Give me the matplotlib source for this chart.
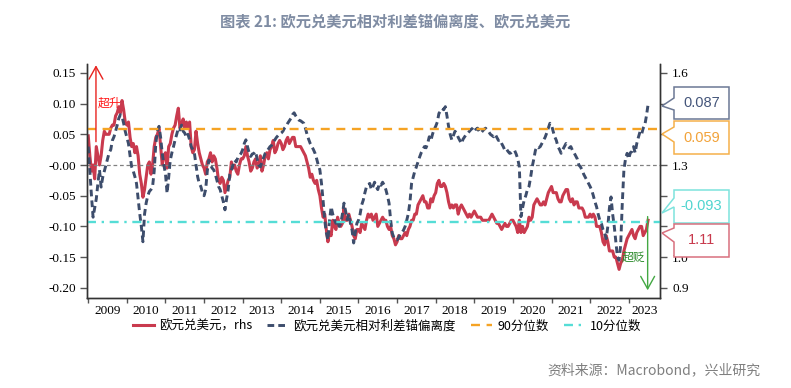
import numpy as np
import matplotlib
matplotlib.use('Agg')
import matplotlib.pyplot as plt
from matplotlib.patches import Polygon

plt.rcParams['font.family'] = ['Noto Sans CJK SC', 'DejaVu Sans']
plt.rcParams['axes.unicode_minus'] = False

# semi-monthly observations starting Jan 2009
eurusd = [
    1.395, 1.33, 1.28, 1.30, 1.255, 1.36, 1.33, 1.30, 1.33, 1.38, 1.41, 1.40, 1.40, 1.40, 1.42, 1.43, 1.43, 1.46, 1.47, 1.49, 1.47, 1.51, 1.48, 1.44,
    1.43, 1.44, 1.39, 1.36, 1.37, 1.34, 1.36, 1.33, 1.27, 1.24, 1.195, 1.22, 1.26, 1.30, 1.31, 1.27, 1.30, 1.36, 1.39, 1.40, 1.42, 1.36, 1.30, 1.33,
    1.34, 1.29, 1.36, 1.37, 1.40, 1.42, 1.43, 1.46, 1.485, 1.42, 1.43, 1.45, 1.42, 1.44, 1.42, 1.44, 1.36, 1.34, 1.35, 1.41, 1.37, 1.34, 1.32, 1.30,
    1.29, 1.27, 1.31, 1.32, 1.34, 1.31, 1.33, 1.32, 1.29, 1.25, 1.24, 1.26, 1.25, 1.21, 1.23, 1.25, 1.26, 1.31, 1.29, 1.30, 1.28, 1.27, 1.30, 1.32,
    1.32, 1.33, 1.36, 1.33, 1.31, 1.28, 1.29, 1.31, 1.32, 1.29, 1.30, 1.33, 1.28, 1.30, 1.33, 1.34, 1.32, 1.35, 1.36, 1.38, 1.34, 1.35, 1.37, 1.38,
    1.37, 1.35, 1.36, 1.38, 1.39, 1.37, 1.38, 1.39, 1.39, 1.36, 1.36, 1.36, 1.36, 1.35, 1.34, 1.33, 1.31, 1.29, 1.26, 1.27, 1.25, 1.24, 1.25, 1.22,
    1.20, 1.16, 1.13, 1.14, 1.09, 1.05, 1.08, 1.07, 1.12, 1.10, 1.09, 1.13, 1.11, 1.10, 1.11, 1.16, 1.12, 1.12, 1.14, 1.12, 1.10, 1.07, 1.06, 1.09,
    1.09, 1.08, 1.11, 1.10, 1.09, 1.12, 1.14, 1.13, 1.14, 1.12, 1.13, 1.14, 1.10, 1.11, 1.12, 1.13, 1.12, 1.12, 1.10, 1.09, 1.10, 1.07, 1.06, 1.04,
    1.05, 1.07, 1.06, 1.06, 1.07, 1.08, 1.07, 1.09, 1.10, 1.12, 1.12, 1.14, 1.14, 1.17, 1.18, 1.19, 1.20, 1.18, 1.18, 1.16, 1.16, 1.19, 1.18, 1.20,
    1.21, 1.24, 1.25, 1.23, 1.23, 1.24, 1.23, 1.21, 1.18, 1.16, 1.17, 1.16, 1.17, 1.17, 1.14, 1.16, 1.17, 1.16, 1.15, 1.14, 1.13, 1.14, 1.13, 1.14,
    1.15, 1.14, 1.13, 1.13, 1.13, 1.12, 1.12, 1.12, 1.12, 1.12, 1.13, 1.14, 1.13, 1.12, 1.11, 1.11, 1.10, 1.09, 1.10, 1.11, 1.10, 1.10, 1.11, 1.12,
    1.12, 1.11, 1.10, 1.08, 1.12, 1.08, 1.10, 1.08, 1.09, 1.10, 1.13, 1.12, 1.13, 1.17, 1.18, 1.19, 1.18, 1.17, 1.17, 1.18, 1.17, 1.19, 1.21, 1.22,
    1.23, 1.21, 1.21, 1.21, 1.19, 1.18, 1.18, 1.20, 1.21, 1.22, 1.22, 1.19, 1.18, 1.19, 1.17, 1.18, 1.18, 1.16, 1.16, 1.16, 1.15, 1.13, 1.13, 1.13,
    1.14, 1.13, 1.14, 1.13, 1.10, 1.10, 1.10, 1.08, 1.05, 1.04, 1.07, 1.05, 1.02, 1.02, 1.02, 1.00, 1.00, 0.98, 0.96, 0.98, 0.99, 1.02, 1.04, 1.06,
    1.07, 1.08, 1.09, 1.07, 1.06, 1.08, 1.09, 1.10, 1.10, 1.07, 1.08, 1.09, 1.12,
]

deviation = [
    0.030, -0.010, -0.050, -0.085, -0.070, -0.055, -0.030, -0.008, -0.036, -0.020, -0.010, 0.000, 0.010, 0.020, 0.025, 0.040, 0.046, 0.055, 0.065, 0.076, 0.082, 0.079, 0.068, 0.055,
    0.045, 0.035, 0.015, -0.003, -0.010, -0.019, -0.030, -0.055, -0.079, -0.100, -0.125, -0.080, -0.062, -0.050, -0.043, -0.040, -0.035, -0.010, 0.035, 0.055, 0.063, 0.045, 0.019, 0.000,
    -0.014, -0.046, -0.020, 0.008, 0.020, 0.030, 0.041, 0.050, 0.060, 0.057, 0.065, 0.055, 0.052, 0.045, 0.050, 0.041, 0.030, 0.025, 0.019, 0.000, -0.019, -0.030, -0.035, -0.045,
    -0.050, -0.040, -0.010, 0.008, 0.000, -0.005, -0.008, -0.015, -0.025, -0.035, -0.040, -0.050, -0.060, -0.073, -0.055, -0.040, -0.015, -0.008, 0.000, 0.008, 0.005, 0.012, 0.015, 0.019,
    0.025, 0.035, 0.041, 0.030, 0.020, 0.014, 0.018, 0.019, 0.022, 0.010, 0.000, -0.003, 0.005, 0.012, 0.019, 0.022, 0.026, 0.030, 0.032, 0.036, 0.041, 0.045, 0.048, 0.050,
    0.052, 0.055, 0.060, 0.063, 0.068, 0.072, 0.076, 0.082, 0.085, 0.080, 0.076, 0.073, 0.072, 0.070, 0.068, 0.060, 0.050, 0.042, 0.035, 0.030, 0.025, 0.019, 0.010, 0.000,
    -0.008, -0.030, -0.058, -0.090, -0.110, -0.122, -0.090, -0.068, -0.080, -0.089, -0.095, -0.090, -0.100, -0.095, -0.080, -0.062, -0.075, -0.089, -0.080, -0.095, -0.106, -0.127, -0.110, -0.095,
    -0.090, -0.080, -0.065, -0.057, -0.045, -0.035, -0.032, -0.030, -0.040, -0.035, -0.028, -0.035, -0.040, -0.030, -0.033, -0.028, -0.033, -0.040, -0.050, -0.062, -0.090, -0.111, -0.118, -0.122,
    -0.122, -0.118, -0.112, -0.110, -0.106, -0.100, -0.090, -0.079, -0.060, -0.030, -0.020, -0.010, -0.003, 0.005, 0.013, 0.020, 0.025, 0.030, 0.028, 0.035, 0.046, 0.040, 0.050, 0.058,
    0.063, 0.070, 0.084, 0.088, 0.092, 0.090, 0.095, 0.080, 0.063, 0.050, 0.041, 0.048, 0.055, 0.052, 0.045, 0.040, 0.035, 0.042, 0.046, 0.050, 0.052, 0.055, 0.058, 0.060,
    0.063, 0.058, 0.060, 0.055, 0.052, 0.055, 0.058, 0.060, 0.057, 0.054, 0.050, 0.048, 0.046, 0.050, 0.045, 0.040, 0.041, 0.035, 0.030, 0.024, 0.026, 0.022, 0.019, 0.020,
    0.022, 0.024, 0.018, 0.010, -0.003, -0.084, -0.070, -0.057, -0.050, -0.040, -0.035, -0.020, -0.003, 0.010, 0.024, 0.030, 0.028, 0.030, 0.035, 0.040, 0.045, 0.052, 0.060, 0.068,
    0.065, 0.055, 0.046, 0.040, 0.030, 0.025, 0.019, 0.025, 0.030, 0.035, 0.032, 0.028, 0.030, 0.024, 0.020, 0.015, 0.010, 0.000, -0.003, -0.008, -0.015, -0.020, -0.025, -0.030,
    -0.035, -0.041, -0.050, -0.060, -0.068, -0.080, -0.090, -0.095, -0.105, -0.111, -0.120, -0.100, -0.070, -0.052, -0.080, -0.100, -0.125, -0.150, -0.155, -0.130, -0.062, -0.008, 0.010, 0.019,
    0.010, 0.020, 0.022, 0.030, 0.020, 0.035, 0.045, 0.054, 0.050, 0.060, 0.065, 0.080, 0.098,
]

p90 = 0.059
p10 = -0.093
years = list(range(2009, 2024))
callout_text = ['0.087', '0.059', '-0.093', '1.11']
rhs_hidden = ['1.1', '1.2', '1.4', '1.5']  # covered by the callouts in the original

t = 2009 + np.arange(len(eurusd)) / 24.0

W, H = 791, 388
fig = plt.figure(figsize=(W / 100, H / 100), dpi=100)
ax = fig.add_axes([86.7 / W, 1 - 297.7 / H, (660 - 86.7) / W, (297.7 - 64) / H])
ax2 = ax.twinx()
ax.set_zorder(ax2.get_zorder() + 1)
ax.patch.set_visible(False)

red = '#c93a4e'
navy = '#3d4d6c'
orange = '#f5a324'
cyan = '#55ddd6'

l_red, = ax2.plot(t, eurusd, color=red, lw=2.2, label='欧元兑美元，rhs')
l_navy, = ax.plot(t, deviation, color=navy, lw=2.1, dashes=(2.3, 1.4), label='欧元兑美元相对利差锚偏离度')
l_90 = ax.axhline(p90, color=orange, lw=1.7, dashes=(3.8, 2.8), label='90分位数')
l_10 = ax.axhline(p10, color=cyan, lw=1.7, dashes=(3.8, 2.4, 1, 2.4), label='10分位数')
ax.axhline(0, color='#808080', lw=0.9, dashes=(3, 2.2), zorder=1)

ylo, yhi = -0.2161, 0.1645
ax.set_ylim(ylo, yhi)
ax2.set_ylim(1.3 + 2 * ylo, 1.3 + 2 * yhi)
ax.set_xlim(2008.96, 2023.81)

ax.set_yticks(np.arange(-0.20, 0.151, 0.05))
ax.set_yticklabels(['%.2f' % v for v in np.arange(-0.20, 0.151, 0.05)])
ax2.set_yticks(np.arange(0.9, 1.61, 0.1))
rlabels = ['%.1f' % v for v in np.arange(0.9, 1.61, 0.1)]
ax2.set_yticklabels(['' if s in rhs_hidden else s for s in rlabels])

ax.set_xticks(years)
ax.set_xticklabels([])
edges = years + [ax.get_xlim()[1]]
mids = [(edges[i] + edges[i + 1]) / 2 for i in range(len(years))]
ax.set_xticks(mids, minor=True)
ax.set_xticklabels([str(y) for y in years], minor=True)

for a in (ax, ax2):
    for s in a.spines.values():
        s.set_color('#333333')
        s.set_linewidth(1.0)
    a.spines['top'].set_visible(False)
ax.tick_params(axis='y', direction='out', length=4.8, width=1, color='#555555',
               labelsize=9.5, labelfontfamily='Liberation Serif', pad=3)
ax2.tick_params(axis='y', direction='out', length=4.8, width=1, color='#555555',
                labelsize=9.5, labelfontfamily='Liberation Serif', pad=4)
ax.tick_params(axis='x', which='major', direction='out', length=3.8, width=1, color='#555555')
ax.tick_params(axis='x', which='minor', length=0, labelsize=9.5,
               labelfontfamily='Liberation Serif', pad=5)

# arrows and notes
ax.annotate('', xy=(2009.20, yhi - 0.002), xytext=(2009.20, 0.038),
            arrowprops=dict(arrowstyle='->,head_length=0.45,head_width=0.25',
                            color='#e8231f', lw=1.0, mutation_scale=20, shrinkA=0, shrinkB=0))
ax.text(2009.25, 0.101, '超升', color='#ff1a1a', fontsize=8.5, va='center', ha='left')
ax.annotate('', xy=(2023.49, -0.204), xytext=(2023.49, -0.084),
            arrowprops=dict(arrowstyle='->,head_length=0.45,head_width=0.25',
                            color='#43a843', lw=1.0, mutation_scale=20, shrinkA=0, shrinkB=0))
ax.text(2023.43, -0.150, '超贬', color='#2a8a2a', fontsize=8.5, va='center', ha='right')

# callout boxes on the right
boxes = [
    (87, 119, 98, 110, 106, '#6b7894', '#44557a'),
    (121, 154, 127, 142, 134, '#f5b04a', '#f2a33a'),
    (190, 223, 198, 207, 213, '#7de3dd', '#4fd4cf'),
    (224, 257, 228, 242, 233, '#d8707e', '#c8394c'),
]
x0, x1, tipx = 674, 729, 662
for (top, bot, n1, n2, tipy, ec, tc), txt in zip(boxes, callout_text):
    pts = [(x0, top), (x1, top), (x1, bot), (x0, bot), (x0, n2), (tipx, tipy), (x0, n1)]
    pts = [(px / W, 1 - py / H) for px, py in pts]
    fig.add_artist(Polygon(pts, closed=True, facecolor='white', edgecolor=ec,
                           lw=1.1, transform=fig.transFigure, zorder=5))
    fig.text((x0 + x1) / 2 / W, 1 - (top + bot) / 2 / H, txt, color=tc, fontsize=10.5,
             family='Liberation Sans', ha='center', va='center', zorder=6)

fig.legend(handles=[l_red, l_navy, l_90, l_10], loc='center', ncol=4, frameon=False,
           bbox_to_anchor=(387 / W, 1 - 326 / H), fontsize=9, handlelength=1.7,
           handletextpad=0.4, columnspacing=1.2)

fig.text(395 / W, 1 - 21 / H, '图表 21: 欧元兑美元相对利差锚偏离度、欧元兑美元',
         ha='center', va='center', fontsize=11, fontweight='bold', color='#7f8ca3')
fig.text(760 / W, 1 - 370 / H, '资料来源：Macrobond，兴业研究', ha='right', va='center',
         fontsize=10, color='#7f7f7f')

fig.savefig('out.png', dpi=100)
